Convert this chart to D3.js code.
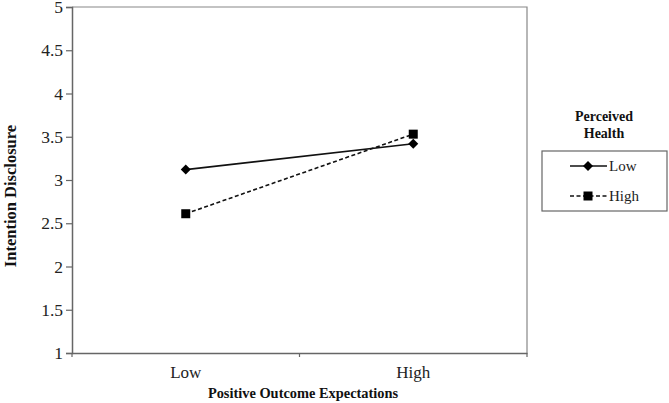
<!DOCTYPE html>
<html><head><meta charset="utf-8">
<script src="https://cdn.jsdelivr.net/npm/d3@7/dist/d3.min.js"></script>
<style>body{margin:0;background:#fff;}svg{display:block;}</style>
</head><body>
<svg id="c" width="669" height="403"></svg>
<script>
const categories = ["Low", "High"];
const seriesNames = ["Low", "High"];
const lowHealth = [3.12, 3.42];
const highHealth = [2.61, 3.53];
const yTicks = [1, 1.5, 2, 2.5, 3, 3.5, 4, 4.5, 5];

const svg = d3.select("#c");
const L = 72, R = 527, T = 7, B = 353;
const font = "'Liberation Serif','Times New Roman',serif";

const x = d3.scaleBand().domain(categories).range([L, R]);
const y = d3.scaleLinear().domain([1, 5]).range([B, T]);

// frame top/right
svg.append("path").attr("d", `M${L},${T}H${R}V${B}`).attr("fill", "none").attr("stroke", "#888").attr("stroke-width", 1.2);

// y axis
const ya = svg.append("g").attr("transform", `translate(${L},0)`)
  .call(d3.axisLeft(y).tickValues(yTicks).tickSize(6).tickPadding(3).tickFormat(d => String(d)));
ya.select(".domain").attr("stroke", "#666").attr("stroke-width", 1.5);
ya.selectAll(".tick line").attr("stroke", "#666").attr("stroke-width", 1.2);
ya.selectAll("text").attr("font-family", font).attr("font-size", 17.5).attr("fill", "#222");

// x axis
const xa = svg.append("g").attr("transform", `translate(0,${B})`)
  .call(d3.axisBottom(x).tickSize(0).tickPadding(13));
xa.select(".domain").attr("stroke", "#666").attr("stroke-width", 1.5);
xa.selectAll("text").attr("font-family", font).attr("font-size", 17).attr("fill", "#222");
// tick marks at category boundaries
const between = [x(categories[1])];
svg.append("g").selectAll("line").data([L, ...between, R]).join("line")
  .attr("x1", d => d).attr("x2", d => d).attr("y1", B).attr("y2", B + 4)
  .attr("stroke", "#666").attr("stroke-width", 1.2);

// axis titles
svg.append("text").attr("x", 303).attr("y", 398).attr("text-anchor", "middle")
  .attr("font-family", font).attr("font-weight", "bold").attr("font-size", 14.4).attr("fill", "#111")
  .text("Positive Outcome Expectations");
svg.append("text").attr("transform", `translate(16,196) rotate(-90)`).attr("text-anchor", "middle")
  .attr("font-family", font).attr("font-weight", "bold").attr("font-size", 16.5).attr("fill", "#111")
  .text("Intention Disclosure");

const cx = d => x(d) + x.bandwidth() / 2;
const line = d3.line().x((v, i) => cx(categories[i])).y(v => y(v));
const data = [
  { name: seriesNames[0], values: lowHealth, dash: null, marker: "diamond" },
  { name: seriesNames[1], values: highHealth, dash: "4,2.5", marker: "square" }
];

function marker(g, type, px, py) {
  if (type === "diamond") {
    g.append("path").attr("d", `M${px},${py - 5}L${px + 5},${py}L${px},${py + 5}L${px - 5},${py}Z`).attr("fill", "#000");
  } else {
    g.append("rect").attr("x", px - 4.5).attr("y", py - 4.5).attr("width", 9).attr("height", 9).attr("fill", "#000");
  }
}

data.forEach(s => {
  svg.append("path").attr("d", line(s.values)).attr("fill", "none").attr("stroke", "#111")
    .attr("stroke-width", 1.6).attr("stroke-dasharray", s.dash);
});
data.forEach(s => {
  const g = svg.append("g");
  s.values.forEach((v, i) => marker(g, s.marker, cx(categories[i]), y(v)));
});

// legend
const lg = svg.append("g");
lg.append("text").attr("x", 604).attr("y", 121).attr("text-anchor", "middle").attr("font-family", font)
  .attr("font-weight", "bold").attr("font-size", 14).attr("fill", "#111").text("Perceived");
lg.append("text").attr("x", 604).attr("y", 138).attr("text-anchor", "middle").attr("font-family", font)
  .attr("font-weight", "bold").attr("font-size", 14).attr("fill", "#111").text("Health");
lg.append("rect").attr("x", 542).attr("y", 151).attr("width", 125).attr("height", 60)
  .attr("fill", "none").attr("stroke", "#666").attr("stroke-width", 1.2);
data.forEach((s, i) => {
  const ly = 166 + i * 30;
  lg.append("line").attr("x1", 570).attr("x2", 607).attr("y1", ly).attr("y2", ly)
    .attr("stroke", "#111").attr("stroke-width", 1.6).attr("stroke-dasharray", s.dash);
  marker(lg, s.marker, 588, ly);
  lg.append("text").attr("x", 609).attr("y", ly + 5).attr("font-family", font).attr("font-size", 15)
    .attr("fill", "#222").text(s.name);
});
</script>
</body></html>
